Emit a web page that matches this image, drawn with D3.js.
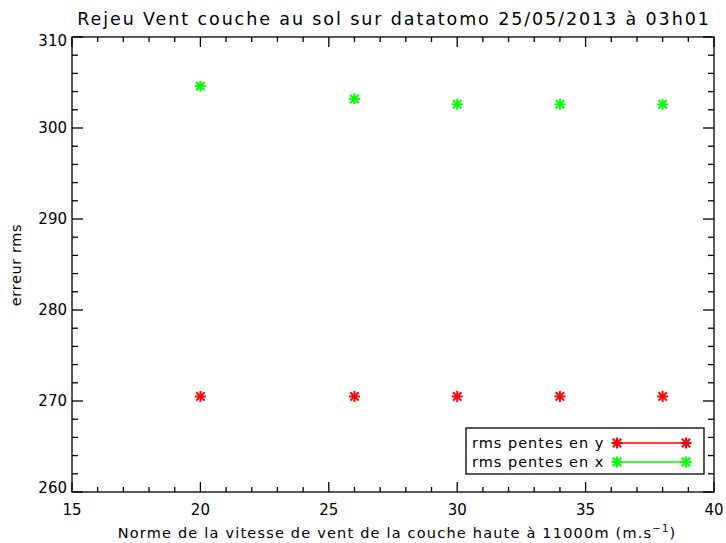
<!DOCTYPE html>
<html>
<head>
<meta charset="utf-8">
<script src="https://cdn.jsdelivr.net/npm/d3@7"></script>
<style>
  body { margin: 0; background: #fff; }
  svg text { font-family: "DejaVu Sans", sans-serif; fill: #000; }
</style>
</head>
<body>
<svg id="chart" width="726" height="543"></svg>
<script>
// Wind speed of the upper layer (m/s) for each replay run
const speeds = [20, 26, 30, 34, 38];
// RMS error of the slopes along y and along x
const rmsY = [270.5, 270.5, 270.5, 270.5, 270.5];
const rmsX = [304.6, 303.2, 302.6, 302.6, 302.6];
const seriesNames = ["rms pentes en y", "rms pentes en x"];
const seriesColors = ["#ff0000", "#00ff00"];
const xTicks = [15, 20, 25, 30, 35, 40];
const yTicks = [260, 270, 280, 290, 300, 310];

const svg = d3.select("#chart");
const m = { left: 72, right: 714, top: 37, bottom: 492 };

const x = d3.scaleLinear().domain([15, 40]).range([m.left, m.right]);
const y = d3.scaleLinear().domain([260, 310]).range([m.bottom, m.top]);

const ax = svg.append("g").attr("stroke", "#000").attr("stroke-width", 1.3);

// frame
ax.append("rect")
  .attr("x", m.left).attr("y", m.top)
  .attr("width", m.right - m.left).attr("height", m.bottom - m.top)
  .attr("fill", "none");

// x ticks (major every 5, minor every 1) on bottom and top
const xMinor = d3.range(15, 40.001, 1);
xMinor.forEach(v => {
  const major = xTicks.includes(v);
  const len = major ? 10 : 5;
  ax.append("line").attr("x1", x(v)).attr("x2", x(v)).attr("y1", m.bottom).attr("y2", m.bottom - len);
  ax.append("line").attr("x1", x(v)).attr("x2", x(v)).attr("y1", m.top).attr("y2", m.top + len);
});
// y ticks (major every 10, minor every 2) on left and right
const yMinor = d3.range(260, 310.001, 2);
yMinor.forEach(v => {
  const major = yTicks.includes(v);
  const len = major ? 11 : 6;
  ax.append("line").attr("y1", y(v)).attr("y2", y(v)).attr("x1", m.left).attr("x2", m.left + len);
  ax.append("line").attr("y1", y(v)).attr("y2", y(v)).attr("x1", m.right).attr("x2", m.right - len);
});

// tick labels
svg.append("g").selectAll("text").data(xTicks).join("text")
  .attr("x", d => x(d)).attr("y", 515)
  .attr("text-anchor", "middle").attr("font-size", 15)
  .text(d => d);
svg.append("g").selectAll("text").data(yTicks).join("text")
  .attr("x", 67).attr("y", d => Math.min(Math.max(y(d), m.top + 4), m.bottom - 4) + 5)
  .attr("text-anchor", "end").attr("font-size", 15)
  .text(d => d);

// titles
svg.append("text")
  .attr("x", (m.left + m.right) / 2 + 1).attr("y", 25)
  .attr("text-anchor", "middle").attr("font-size", 17.5)
  .attr("letter-spacing", 1.9)
  .text("Rejeu Vent couche au sol sur datatomo 25/05/2013 à 03h01");

const xl = svg.append("text")
  .attr("x", (m.left + m.right) / 2 + 4).attr("y", 538)
  .attr("text-anchor", "middle").attr("font-size", 14.5)
  .attr("letter-spacing", 1.2);
xl.append("tspan").text("Norme de la vitesse de vent de la couche haute à 11000m (m.s");
xl.append("tspan").attr("dy", -6).attr("font-size", 10).text("−1");
xl.append("tspan").attr("dy", 6).text(")");

svg.append("text")
  .attr("transform", "translate(21,265) rotate(-90)")
  .attr("text-anchor", "middle").attr("font-size", 14.5)
  .attr("letter-spacing", 0.6)
  .text("erreur rms");

// asterisk marker
function star(g, cx, cy, color) {
  const r = 5.5, d = 4.2;
  const segs = [[-r, 0, r, 0], [0, -r, 0, r], [-d, -d, d, d], [-d, d, d, -d]];
  g.append("g").attr("stroke", color).attr("stroke-width", 2)
    .selectAll("line").data(segs).join("line")
    .attr("x1", s => cx + s[0]).attr("y1", s => cy + s[1])
    .attr("x2", s => cx + s[2]).attr("y2", s => cy + s[3]);
}

const marks = svg.append("g");
[rmsY, rmsX].forEach((vals, i) => {
  vals.forEach((v, j) => star(marks, x(speeds[j]), y(v), seriesColors[i]));
});

// legend
const lg = svg.append("g");
lg.append("rect").attr("x", 466).attr("y", 428).attr("width", 238).attr("height", 46)
  .attr("fill", "#fff").attr("stroke", "#000").attr("stroke-width", 1.3);
seriesNames.forEach((name, i) => {
  const ly = 443 + i * 19;
  lg.append("text").attr("x", 472).attr("y", ly + 5).attr("font-size", 14.5)
    .attr("letter-spacing", 1.0).text(name);
  lg.append("line").attr("x1", 617).attr("x2", 686).attr("y1", ly).attr("y2", ly)
    .attr("stroke", seriesColors[i]).attr("stroke-width", 1.5);
  star(lg, 617, ly, seriesColors[i]);
  star(lg, 686, ly, seriesColors[i]);
});
</script>
</body>
</html>
